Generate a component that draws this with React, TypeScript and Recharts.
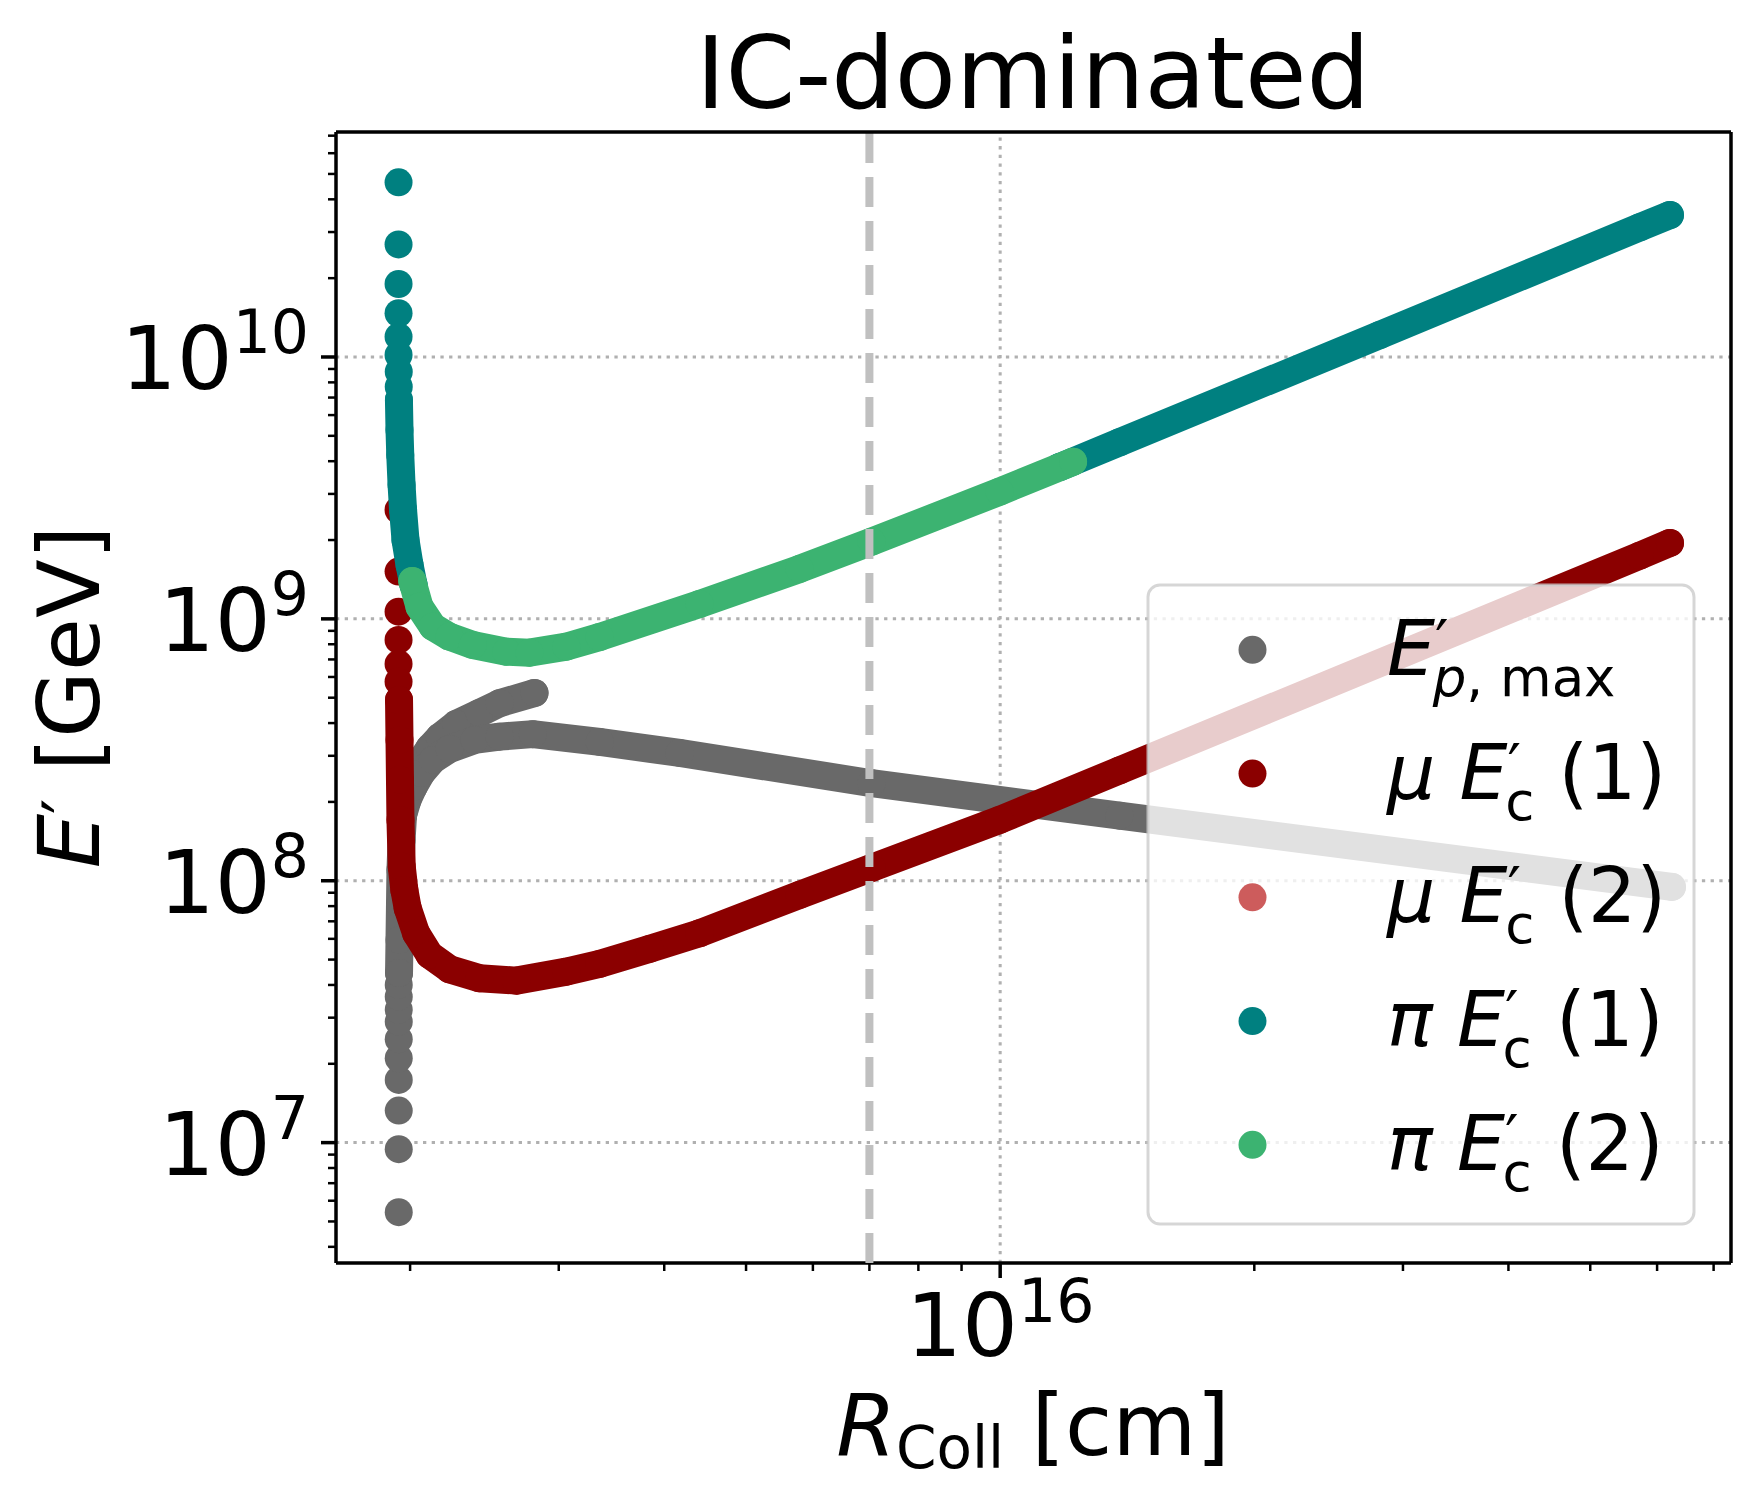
import { ReferenceLine, Scatter, ScatterChart, XAxis, YAxis } from "recharts";

type Pt = [number, number];

const FONT = "'DejaVu Sans', sans-serif";

// axis ranges: R_Coll in cm, E' in GeV
const xDomain: [number, number] = [1.634e15, 7.34e16];
const yDomain: [number, number] = [3.47e6, 7.23e10];

const xMajor = [1e16];
const xMajorLabels = ["16"];
const xMinor = [2e15, 3e15, 4e15, 5e15, 6e15, 7e15, 8e15, 9e15, 2e16, 3e16, 4e16, 5e16, 6e16, 7e16];

const yMajor = [1e7, 1e8, 1e9, 1e10];
const yMajorLabels = ["7", "8", "9", "10"];
const yMinor = [
  4e6, 5e6, 6e6, 7e6, 8e6, 9e6,
  2e7, 3e7, 4e7, 5e7, 6e7, 7e7, 8e7, 9e7,
  2e8, 3e8, 4e8, 5e8, 6e8, 7e8, 8e8, 9e8,
  2e9, 3e9, 4e9, 5e9, 6e9, 7e9, 8e9, 9e9,
  2e10, 3e10, 4e10, 5e10, 6e10, 7e10,
];

const collisionLine = 7e15;

// E'_{p,max}
const pmaxDots: Pt[] = [
  [1.939e15, 5.423e6], [1.939e15, 9.436e6], [1.939e15, 1.325e7], [1.939e15, 1.735e7],
  [1.939e15, 2.1e7], [1.939e15, 2.483e7], [1.939e15, 2.897e7], [1.939e15, 3.211e7],
  [1.939e15, 3.609e7], [1.939e15, 4.0e7],
];
const pmaxRise: Pt[] = [
  [1.9405e15, 4.446e7], [1.943e15, 5.942e7], [1.9455e15, 8.085e7], [1.948e15, 1.1e8],
  [1.954e15, 1.432e8], [1.962e15, 1.783e8], [1.9805e15, 2.126e8], [2.013e15, 2.47e8],
  [2.052e15, 2.817e8], [2.109e15, 3.214e8], [2.168e15, 3.541e8], [2.268e15, 3.97e8],
  [2.417e15, 4.372e8], [2.553e15, 4.763e8], [2.808e15, 5.213e8],
];
const pmaxFall: Pt[] = [
  [1.962e15, 1.783e8], [1.986e15, 2.035e8], [2.019e15, 2.281e8], [2.063e15, 2.579e8],
  [2.128e15, 2.893e8], [2.227e15, 3.186e8], [2.384e15, 3.448e8], [2.553e15, 3.55e8],
  [2.795e15, 3.629e8], [3.354e15, 3.388e8], [4.171e15, 3.076e8], [7.042e15, 2.357e8],
  [1.385e16, 1.772e8], [6.248e16, 9.469e7],
];

// mu E'_c (1)
const muOneDots: Pt[] = [
  [1.938e15, 2.605e9], [1.938e15, 1.515e9], [1.938e15, 1.065e9],
  [1.938e15, 8.307e8], [1.938e15, 6.727e8], [1.938e15, 5.757e8],
];
const muOneCurve: Pt[] = [
  [1.9405e15, 4.9e8], [1.943e15, 3.448e8], [1.9455e15, 2.426e8], [1.948e15, 1.707e8],
  [1.955e15, 1.132e8], [1.969e15, 9.222e7], [1.987e15, 7.852e7], [2.033e15, 6.302e7],
  [2.109e15, 5.21e7], [2.227e15, 4.593e7], [2.417e15, 4.243e7], [2.672e15, 4.155e7],
  [3.063e15, 4.497e7], [3.354e15, 4.811e7], [3.843e15, 5.49e7], [4.405e15, 6.302e7],
  [5.786e15, 8.826e7], [7.042e15, 1.119e8], [9.986e15, 1.707e8], [1.385e16, 2.638e8],
  [5.724e16, 1.743e9], [6.214e16, 1.949e9],
];

// mu E'_c (2): fully hidden under the other series
const muTwoCurve: Pt[] = [];

// pi E'_c (1)
const piOneDots: Pt[] = [
  [1.938e15, 4.645e10], [1.938e15, 2.69e10], [1.938e15, 1.9e10], [1.938e15, 1.469e10],
  [1.938e15, 1.195e10], [1.938e15, 1.018e10], [1.939e15, 8.79e9], [1.939e15, 7.7e9],
];
const piOneLeft: Pt[] = [
  [1.94e15, 6.85e9], [1.943e15, 5.265e9], [1.947e15, 4.225e9], [1.954e15, 3.246e9],
  [1.962e15, 2.605e9], [1.975e15, 2.001e9], [1.997e15, 1.606e9], [2.019e15, 1.347e9],
];
const piOneRight: Pt[] = [
  [1.176e16, 3.798e9], [1.385e16, 4.724e9], [2.816e16, 1.213e10],
  [5.724e16, 3.128e10], [6.214e16, 3.485e10],
];

// pi E'_c (2)
const piTwoCurve: Pt[] = [
  [2.012e15, 1.396e9], [2.052e15, 1.113e9], [2.128e15, 9.338e8], [2.227e15, 8.551e8],
  [2.373e15, 7.95e8], [2.6e15, 7.495e8], [2.77e15, 7.429e8], [3.063e15, 7.832e8],
  [3.354e15, 8.528e8], [4.405e15, 1.14e9], [5.786e15, 1.551e9], [7.042e15, 1.972e9],
  [9.986e15, 3.06e9], [1.22e16, 3.983e9],
];

const colors = {
  pmax: "#696969",
  muOne: "#8b0000",
  muTwo: "#cd5c5c",
  piOne: "#008080",
  piTwo: "#3cb371",
};

const DOT_R = 14;

const toRows = (pts: Pt[]) => pts.map(([x, y]) => ({ x, y }));

function dotShape(color: string) {
  return (p: any) => <circle cx={p.cx} cy={p.cy} r={DOT_R} fill={color} />;
}

function curveLine(color: string) {
  return {
    stroke: color,
    strokeWidth: DOT_R * 2,
    strokeLinecap: "round" as const,
    strokeLinejoin: "round" as const,
  };
}

function XTick(props: any) {
  const { x, y, payload } = props;
  const i = xMajor.indexOf(payload.value);
  const major = i >= 0;
  return (
    <g>
      <line x1={x} x2={x} y1={y} y2={y + (major ? 15 : 8)} stroke="#000" strokeWidth={major ? 3.5 : 2.5} />
      {major && (
        <text x={x} y={y + 93} textAnchor="middle" fontSize={88} fontFamily={FONT} fill="#000">
          10
          <tspan fontSize={60} dy={-34}>
            {xMajorLabels[i]}
          </tspan>
        </text>
      )}
    </g>
  );
}

function YTick(props: any) {
  const { x, y, payload } = props;
  const i = yMajor.indexOf(payload.value);
  const major = i >= 0;
  return (
    <g>
      <line x1={x} x2={x - (major ? 15 : 8)} y1={y} y2={y} stroke="#000" strokeWidth={major ? 3.5 : 2.5} />
      {major && (
        <text x={x - 27} y={y + 32} textAnchor="end" fontSize={88} fontFamily={FONT} fill="#000">
          10
          <tspan fontSize={60} dy={-36}>
            {yMajorLabels[i]}
          </tspan>
        </text>
      )}
    </g>
  );
}

type LegendRow = {
  color: string;
  prefix?: string;
  sub: string;
  subItalic?: boolean;
  subTail?: string;
  tail?: string;
};

const legendRows: LegendRow[] = [
  { color: colors.pmax, sub: "p", subItalic: true, subTail: ", max" },
  { color: colors.muOne, prefix: "μ ", sub: "c", tail: " (1)" },
  { color: colors.muTwo, prefix: "μ ", sub: "c", tail: " (2)" },
  { color: colors.piOne, prefix: "π ", sub: "c", tail: " (1)" },
  { color: colors.piTwo, prefix: "π ", sub: "c", tail: " (2)" },
];

function Overlay() {
  return (
    <svg
      width={1761}
      height={1503}
      style={{ position: "absolute", left: 0, top: 0, pointerEvents: "none" }}
      fontFamily={FONT}
    >
      <text x={1033} y={108} textAnchor="middle" fontSize={100} fill="#000">
        IC-dominated
      </text>
      <text x={1033} y={1455} textAnchor="middle" fontSize={86} fill="#000">
        <tspan fontStyle="italic">R</tspan>
        <tspan fontSize={58} dy={13}>
          Coll
        </tspan>
        <tspan dy={-13}> [cm]</tspan>
      </text>
      <text transform="translate(99,697) rotate(-90)" textAnchor="middle" fontSize={86} fill="#000">
        <tspan fontStyle="italic">E</tspan>
        <tspan fontSize={68} dy={-8}>
          ′
        </tspan>
        <tspan dy={8}> [GeV]</tspan>
      </text>

      <rect
        x={1148}
        y={585}
        width={546}
        height={639}
        rx={12}
        fill="#fff"
        fillOpacity={0.8}
        stroke="#cccccc"
        strokeOpacity={0.8}
        strokeWidth={3}
      />
      {legendRows.map((r, i) => {
        const cy = 649.8 + i * 123.75;
        return (
          <g key={i}>
            <circle cx={1252.5} cy={cy} r={DOT_R} fill={r.color} />
            <text x={1387} y={cy + 25} fontSize={76} fill="#000">
              {r.prefix && <tspan fontStyle="italic">{r.prefix}</tspan>}
              <tspan fontStyle="italic">E</tspan>
              <tspan fontSize={60} dy={-12}>
                ′
              </tspan>
              <tspan fontSize={53} dx={-16} dy={33} fontStyle={r.subItalic ? "italic" : "normal"}>
                {r.sub}
              </tspan>
              {r.subTail && <tspan fontSize={53}>{r.subTail}</tspan>}
              {r.tail && <tspan dy={-21}>{r.tail}</tspan>}
            </text>
          </g>
        );
      })}
    </svg>
  );
}

export default function App() {
  return (
    <div
      style={{
        position: "absolute",
        left: 0,
        top: 0,
        width: 1761,
        height: 1503,
        background: "#fff",
        fontFamily: FONT,
      }}
    >
      <ScatterChart width={1761} height={1503} margin={{ top: 132, right: 30, bottom: 0, left: 0 }}>
        <XAxis
          type="number"
          dataKey="x"
          scale="log"
          domain={xDomain}
          allowDataOverflow
          ticks={[...xMinor, ...xMajor]}
          interval={0}
          tick={(p: any) => <XTick {...p} />}
          tickLine={false}
          tickSize={0}
          tickMargin={0}
          axisLine={{ stroke: "#000", strokeWidth: 3.5 }}
          height={240}
        />
        <YAxis
          type="number"
          dataKey="y"
          scale="log"
          domain={yDomain}
          allowDataOverflow
          ticks={[...yMinor, ...yMajor]}
          interval={0}
          tick={(p: any) => <YTick {...p} />}
          tickLine={false}
          tickSize={0}
          tickMargin={0}
          axisLine={{ stroke: "#000", strokeWidth: 3.5 }}
          width={336}
        />

        {yMajor.map((v) => (
          <ReferenceLine key={"gy" + v} y={v} stroke="#b0b0b0" strokeWidth={3} strokeDasharray="3.3 5.4" zIndex={-50} />
        ))}
        {xMajor.map((v) => (
          <ReferenceLine key={"gx" + v} x={v} stroke="#b0b0b0" strokeWidth={3} strokeDasharray="3.3 5.4" zIndex={-50} />
        ))}

        <Scatter data={toRows(pmaxDots)} shape={dotShape(colors.pmax)} isAnimationActive={false} />
        <Scatter data={toRows(pmaxRise)} shape={dotShape(colors.pmax)} line={curveLine(colors.pmax)} isAnimationActive={false} />
        <Scatter data={toRows(pmaxFall)} shape={dotShape(colors.pmax)} line={curveLine(colors.pmax)} isAnimationActive={false} />

        <Scatter data={toRows(muOneDots)} shape={dotShape(colors.muOne)} isAnimationActive={false} />
        <Scatter data={toRows(muOneCurve)} shape={dotShape(colors.muOne)} line={curveLine(colors.muOne)} isAnimationActive={false} />
        <Scatter data={toRows(muTwoCurve)} shape={dotShape(colors.muTwo)} isAnimationActive={false} />

        <Scatter data={toRows(piOneDots)} shape={dotShape(colors.piOne)} isAnimationActive={false} />
        <Scatter data={toRows(piOneLeft)} shape={dotShape(colors.piOne)} line={curveLine(colors.piOne)} isAnimationActive={false} />
        <Scatter data={toRows(piOneRight)} shape={dotShape(colors.piOne)} line={curveLine(colors.piOne)} isAnimationActive={false} />

        <Scatter data={toRows(piTwoCurve)} shape={dotShape(colors.piTwo)} line={curveLine(colors.piTwo)} isAnimationActive={false} />

        <ReferenceLine x={collisionLine} stroke="#c0c0c0" strokeWidth={8} strokeDasharray="30 14" zIndex={1000} />
        <ReferenceLine y={yDomain[1]} stroke="#000" strokeWidth={3.5} zIndex={1000} />
        <ReferenceLine x={xDomain[1]} stroke="#000" strokeWidth={3.5} zIndex={1000} />
      </ScatterChart>
      <Overlay />
    </div>
  );
}
